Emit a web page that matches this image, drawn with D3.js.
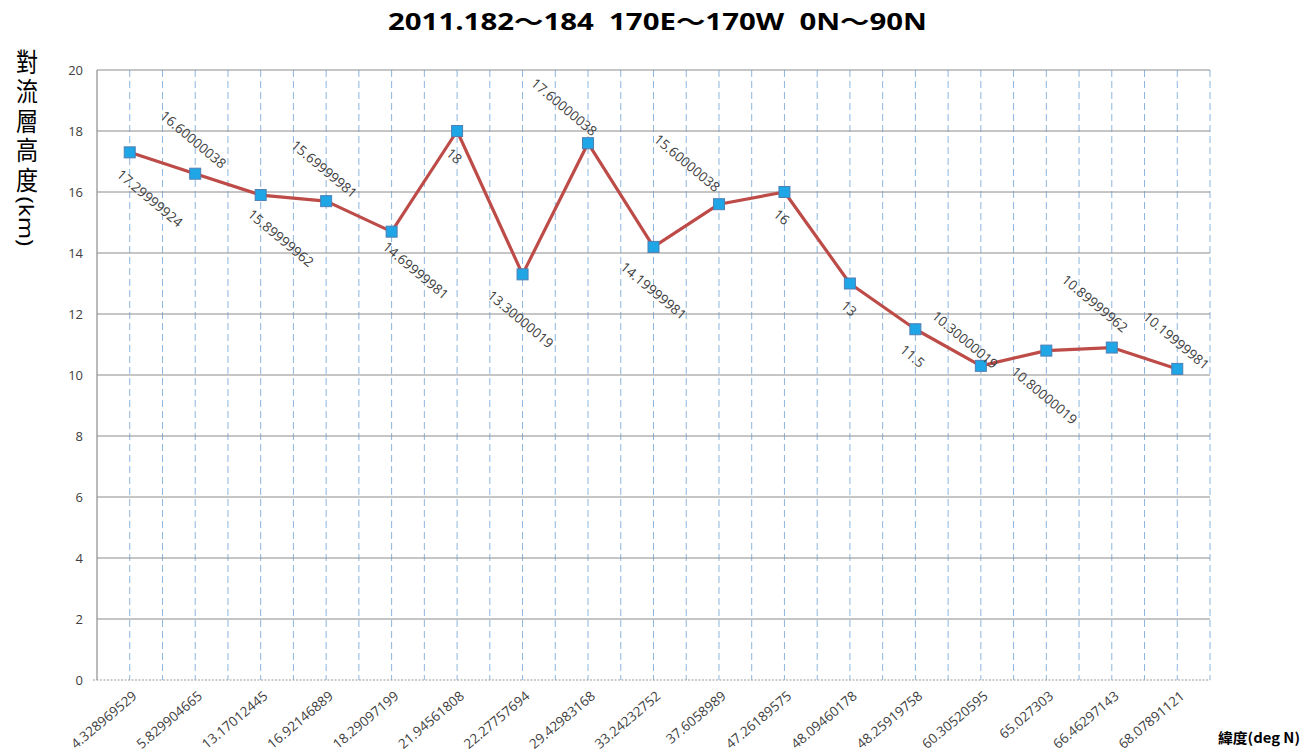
<!DOCTYPE html>
<html>
<head>
<meta charset="utf-8">
<script src="https://cdn.jsdelivr.net/npm/d3@7"></script>
<style>
  html, body { margin: 0; padding: 0; background: #ffffff; }
  svg { display: block; }
</style>
</head>
<body>
<script>
// Latitude of each sounding station (category axis)
const latitudes = [
  "4.328969529", "5.829904665", "13.17012445", "16.92146889", "18.29097199",
  "21.94561808", "22.27757694", "29.42983168", "33.24232752", "37.6058989",
  "47.26189575", "48.09460178", "48.25919758", "60.30520595", "65.027303",
  "66.46297143", "68.07891121"
];

// Tropopause height (km) at each latitude
const tropopauseKm = [
  17.29999924, 16.60000038, 15.89999962, 15.69999981, 14.69999981,
  18, 13.30000019, 17.60000038, 14.19999981, 15.60000038,
  16, 13, 11.5, 10.30000019, 10.80000019,
  10.89999962, 10.19999981
];

const yTickValues = [0, 2, 4, 6, 8, 10, 12, 14, 16, 18, 20];

// Label nudges (px from each marker) so the value labels do not collide
const labelNudge = [
  [20, 46], [-2, -34], [20, 43], [-2, -32], [24, 39],
  [-3, 25], [-2, 45], [-24, -36], [0, 44], [-32, -41],
  [-3, 25], [-1, 25], [-3, 27], [-16, -26], [-2, 45],
  [-17, -44], [-1, -28]
];

const titleText = "2011.182～184  170E～170W  0N～90N";
const yTitleMain = "對流層高度";
const yTitleUnit = "(km)";
const xTitleText = "緯度(deg N)";

const W = 1314, H = 755;
const margin = { top: 70, right: 104, bottom: 75, left: 97 };

const svg = d3.select("body").append("svg")
  .attr("width", W).attr("height", H);

const x = d3.scaleBand()
  .domain(latitudes)
  .range([margin.left, W - margin.right])
  .padding(0);
const bw = x.bandwidth();
const cx = c => x(c) + bw / 2;

const y = d3.scaleLinear()
  .domain([0, 20])
  .range([H - margin.bottom, margin.top]);

const gridColor = "#8c8c8c";
const vDashColor = "#8db5de";

// Vertical dashed guides: at every category centre and boundary
const vLines = [];
latitudes.forEach((c, i) => {
  if (i > 0) vLines.push(x(c));
  vLines.push(cx(c));
});
vLines.push(x.range()[1]);

svg.append("g")
  .selectAll("line")
  .data(vLines)
  .join("line")
  .attr("x1", d => d).attr("x2", d => d)
  .attr("y1", y(20)).attr("y2", y(0))
  .attr("stroke", vDashColor)
  .attr("stroke-width", 1)
  .attr("stroke-dasharray", "7,4");

// Horizontal gridlines
svg.append("g")
  .selectAll("line")
  .data(yTickValues.filter(v => v > 0))
  .join("line")
  .attr("x1", margin.left).attr("x2", W - margin.right)
  .attr("y1", d => y(d)).attr("y2", d => y(d))
  .attr("stroke", gridColor)
  .attr("stroke-width", 1);

// Baseline at zero (dotted)
svg.append("line")
  .attr("x1", margin.left - 4).attr("x2", W - margin.right)
  .attr("y1", y(0)).attr("y2", y(0))
  .attr("stroke", "#9a9a9a")
  .attr("stroke-width", 1.2)
  .attr("stroke-dasharray", "2,1.5");

// Left axis line
svg.append("line")
  .attr("x1", margin.left).attr("x2", margin.left)
  .attr("y1", y(20)).attr("y2", y(0))
  .attr("stroke", gridColor)
  .attr("stroke-width", 1.2);

// Y axis tick labels
const yAxis = svg.append("g")
  .attr("transform", `translate(${margin.left},0)`)
  .call(d3.axisLeft(y).tickValues(yTickValues).tickSize(0).tickPadding(14));
yAxis.select(".domain").remove();
yAxis.selectAll("text")
  .attr("font-family", "'Open Sans', sans-serif")
  .attr("font-size", 13)
  .attr("fill", "#404040");

// X axis tick labels (rotated)
const xAxis = svg.append("g")
  .attr("transform", `translate(0,${y(0)})`)
  .call(d3.axisBottom(x).tickSize(0).tickPadding(0));
xAxis.select(".domain").remove();
xAxis.selectAll("text")
  .attr("font-family", "'Open Sans', sans-serif")
  .attr("font-size", 13.5)
  .attr("fill", "#404040")
  .attr("text-anchor", "end")
  .attr("dy", "0.35em")
  .attr("y", 0)
  .attr("transform", "translate(5,14) rotate(-40)");

// Data line
const pts = latitudes.map((c, i) => ({ c, v: tropopauseKm[i], i }));
svg.append("path")
  .datum(pts)
  .attr("fill", "none")
  .attr("stroke", "#bd4b48")
  .attr("stroke-width", 3.2)
  .attr("stroke-linejoin", "round")
  .attr("d", d3.line().x(d => cx(d.c)).y(d => y(d.v)));

// Square markers
const ms = 11;
svg.append("g")
  .selectAll("rect")
  .data(pts)
  .join("rect")
  .attr("x", d => cx(d.c) - ms / 2)
  .attr("y", d => y(d.v) - ms / 2)
  .attr("width", ms).attr("height", ms)
  .attr("fill", "#1ea6e6")
  .attr("stroke", "#4f7fb4")
  .attr("stroke-width", 1);

// Value labels (rotated)
svg.append("g")
  .selectAll("text")
  .data(pts)
  .join("text")
  .attr("transform", d =>
    `translate(${cx(d.c) + labelNudge[d.i][0]},${y(d.v) + labelNudge[d.i][1]}) rotate(40)`)
  .attr("text-anchor", "middle")
  .attr("dy", "0.35em")
  .attr("font-family", "'Open Sans', sans-serif")
  .attr("font-size", 13.5)
  .attr("fill", "#404040")
  .text(d => String(d.v));

// Title
svg.append("text")
  .attr("x", W / 2 + 0.5)
  .attr("y", 30)
  .attr("text-anchor", "middle")
  .attr("font-family", "'Open Sans', 'Noto Sans CJK TC', sans-serif")
  .attr("font-weight", "bold")
  .attr("font-size", 23)
  .attr("fill", "#000")
  .style("white-space", "pre")
  .attr("textLength", 539)
  .attr("lengthAdjust", "spacingAndGlyphs")
  .text(titleText);

// Y axis title: vertical writing, CJK upright and the unit turned sideways
const yTitle = svg.append("text")
  .attr("transform", "translate(27,49) scale(0.85,1)")
  .attr("x", 0).attr("y", 0)
  .style("writing-mode", "vertical-rl")
  .style("text-orientation", "mixed")
  .attr("text-anchor", "start")
  .attr("font-family", "'Noto Sans CJK TC', sans-serif")
  .attr("font-size", 26)
  .attr("letter-spacing", 3.5)
  .attr("fill", "#000");
yTitle.append("tspan").text(yTitleMain);
yTitle.append("tspan")
  .attr("font-family", "'Noto Sans', sans-serif")
  .attr("font-size", 24)
  .attr("letter-spacing", 0)
  .text(yTitleUnit);

// X axis title
svg.append("text")
  .attr("x", 1218)
  .attr("y", 743)
  .attr("font-family", "'Noto Sans CJK TC', sans-serif")
  .attr("font-weight", "bold")
  .attr("font-size", 14)
  .attr("fill", "#000")
  .attr("textLength", 82)
  .attr("lengthAdjust", "spacingAndGlyphs")
  .text(xTitleText);
</script>
</body>
</html>
